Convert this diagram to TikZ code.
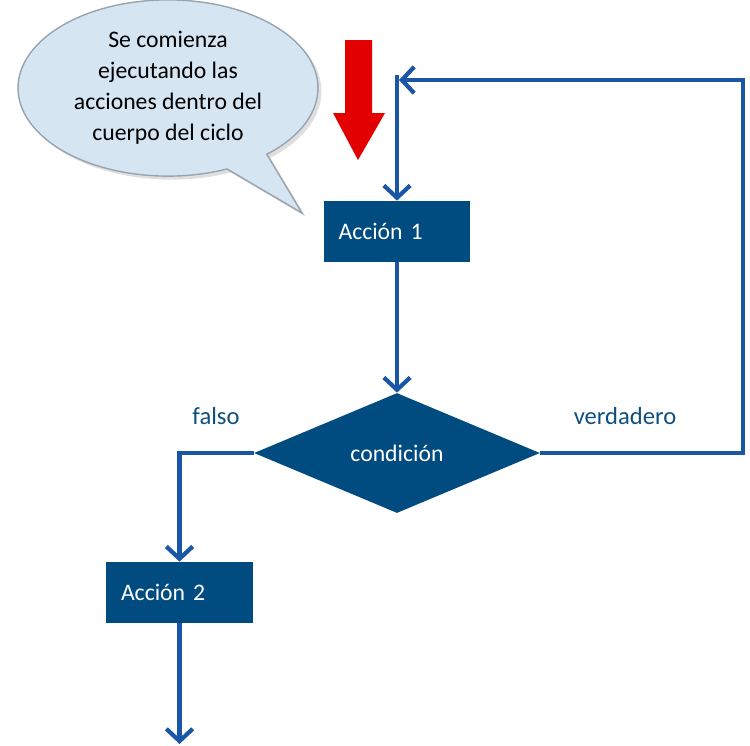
\documentclass[tikz,border=0pt]{standalone}
\usepackage{fontspec}
\setmainfont{Carlito}
\usetikzlibrary{arrows.meta,shapes.geometric,shapes.callouts,shadows}

\definecolor{cajaazul}{HTML}{004B7F}
\definecolor{lineaazul}{HTML}{1A56A6}
\definecolor{textoazul}{HTML}{0E4F80}
\definecolor{globofondo}{HTML}{D5E5F2}
\definecolor{globoborde}{HTML}{98A4AF}
\definecolor{rojo}{HTML}{E30000}

\begin{document}
\begin{tikzpicture}[
    x=0.02cm, y=-0.02cm,
    linea/.style={draw=lineaazul, line width=2.4pt},
    flecha/.style={linea, -{Straight Barb[length=7pt,width=15pt]}},
    accion/.style={
      fill=cajaazul, text=white,
      text width=2.34cm, inner xsep=0.3cm, align=left,
      minimum height=1.22cm,
      font=\fontsize{13.5}{15}\selectfont
    },
    etiqueta/.style={text=textoazul, font=\fontsize{14}{16}\selectfont}
  ]
    \useasboundingbox (0,0) rectangle (750,745);

    % globo de texto
    \coordinate (punta) at (302,213);
    \node (globo) at (168,88) [
      ellipse callout,
      fill=globofondo, draw=globoborde, thick,
      minimum width=6cm, minimum height=3.2cm,
      callout absolute pointer={(punta)},
      callout pointer arc=18,
      drop shadow={opacity=0.25, shadow xshift=2pt, shadow yshift=-2pt},
      align=center,
      font=\fontsize{13.5}{17.6}\selectfont
    ] {Se comienza\\ejecutando las\\acciones dentro del\\cuerpo del ciclo};

    % flecha roja
    \fill[rojo] (345,40) -- (372,40) -- (372,113) -- (385,113)
      -- (358,160) -- (333,113) -- (345,113) -- cycle;

    \node[accion] (acc1) at (397,231.5) {Acción 1};
    \node[
      diamond, aspect=2.4, inner sep=0pt,
      fill=cajaazul, text=white,
      minimum width=5.72cm, minimum height=2.4cm,
      font=\fontsize{13.5}{15}\selectfont
    ] (cond) at (397,453) {condición};
    \node[accion] (acc2) at (179.5,592.5) {Acción 2};

    \node[etiqueta] (falso) at (216,416) {falso};
    \node[etiqueta] (verdadero) at (625,416) {verdadero};

    \coordinate (inicio) at (397,75);
    \coordinate (entrada) at (399,80);
    \coordinate (derecha) at (743,80);
    \coordinate (fin) at (179.5,744);

    \draw[flecha] (inicio) -- (acc1.north);
    \draw[flecha] (acc1) -- (cond.north);
    \draw[flecha] (cond.west) -| (acc2.north);
    \draw[flecha] (acc2) -- (fin);
    \draw[flecha] (cond.east) -| (derecha) -- (entrada);
\end{tikzpicture}
\end{document}
